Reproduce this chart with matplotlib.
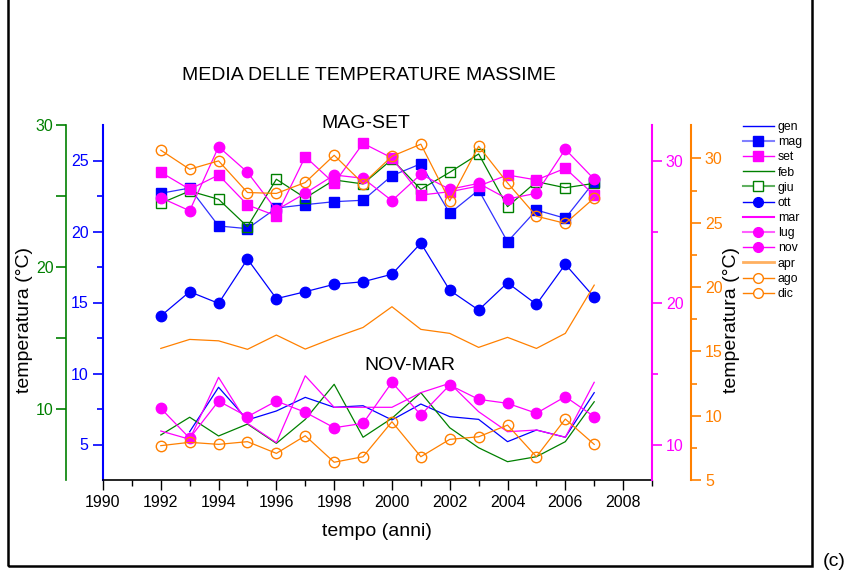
import matplotlib
matplotlib.use("Agg")
import matplotlib.pyplot as plt
from matplotlib.lines import Line2D
from matplotlib.patches import Rectangle
from matplotlib.ticker import FixedLocator

plt.rcParams['font.family'] = ['Liberation Sans', 'DejaVu Sans']

years = list(range(1992, 2008))

# blue axis (left inner)
gen = [None, 5.90, 9.03, 6.73, 7.36, 8.32, 7.62, 7.73, 6.73, 7.85, 6.96, 6.77, 5.20, 6.02, 5.51, 8.65]
mag = [22.69, 23.06, 20.39, 20.20, 21.65, 21.89, 22.10, 22.20, 23.93, 24.77, 21.28, 22.92, 19.28, 21.51, 20.93, 23.51]
ott = [14.05, 15.76, 14.94, 18.06, 15.27, 15.76, 16.28, 16.46, 16.99, 19.18, 15.86, 14.47, 16.39, 14.87, 17.69, 15.37]
# green axis (left outer)
feb = [8.17, 9.42, 8.10, 8.94, 7.58, 9.27, 11.74, 8.01, 9.35, 11.15, 8.68, 7.27, 6.29, 6.64, 7.70, 10.51]
giu = [24.49, 25.35, 24.77, 22.84, 26.18, 24.86, 26.13, 25.85, 27.58, 25.47, 26.67, 27.96, 24.25, 26.01, 25.58, 25.89]
# magenta axis (right inner)
mar = [10.95, 10.37, 14.73, 11.49, 10.13, 14.84, 12.62, 12.62, 12.62, 13.65, 14.31, 12.31, 10.90, 11.02, 10.51, 14.38]
lug = [27.38, 26.46, 30.97, 29.17, 26.51, 27.69, 28.98, 28.75, 27.17, 29.03, 27.97, 28.39, 27.29, 27.69, 30.79, 28.68]
set_ = [29.17, 27.97, 28.98, 26.87, 26.10, 30.27, 28.39, 31.21, 30.18, 27.57, 27.80, 28.20, 28.98, 28.63, 29.45, 27.57]
nov = [12.55, 10.44, 13.06, 11.96, 13.06, 12.27, 11.18, 11.49, 14.38, 12.08, 14.19, 13.18, 12.90, 12.20, 13.37, 11.96]
# orange axis (right outer)
apr = [15.23, 15.93, 15.82, 15.16, 16.27, 15.18, 16.06, 16.86, 18.47, 16.71, 16.40, 15.31, 16.09, 15.23, 16.40, 20.15]
ago = [30.64, 29.16, 29.81, 27.35, 27.28, 28.13, 30.25, 28.05, 30.17, 31.11, 26.70, 30.95, 28.10, 25.51, 24.95, 26.93]
dic = [7.67, 7.93, 7.77, 7.98, 7.07, 8.44, 6.38, 6.81, 9.53, 6.81, 8.16, 8.36, 9.27, 6.81, 9.74, 7.77]

BLUE = '#0000ff'
GREEN = '#008000'
MAG = '#ff00ff'
ORG = '#ff8000'

W, H = 850, 576
fig = plt.figure(figsize=(W / 100, H / 100), dpi=100)
L, R, T, B = 103, 652, 125, 480
ax = fig.add_axes([L / W, 1 - B / H, (R - L) / W, (B - T) / H])
axG = ax.twinx()
axM = ax.twinx()
axO = ax.twinx()

def xy(vals):
    xs = [y for y, v in zip(years, vals) if v is not None]
    vs = [v for v in vals if v is not None]
    return xs, vs

lw = 0.9
# blue
ax.plot(*xy(gen), color=BLUE, lw=lw)
ax.plot(*xy(mag), color='#3030ff', lw=lw, marker='s', ms=6.5, mfc=BLUE, mec=BLUE)
ax.plot(*xy(ott), color=BLUE, lw=lw, marker='o', ms=7.5, mfc=BLUE, mec=BLUE)
# green
axG.plot(*xy(feb), color=GREEN, lw=lw)
axG.plot(*xy(giu), color=GREEN, lw=lw, marker='s', ms=6.5, mfc='none', mec=GREEN, mew=1.0)
# magenta
axM.plot(*xy(mar), color=MAG, lw=lw)
axM.plot(*xy(lug), color=MAG, lw=lw, marker='o', ms=7.5, mfc=MAG, mec=MAG)
axM.plot(*xy(set_), color=MAG, lw=lw, marker='s', ms=6.5, mfc=MAG, mec=MAG)
axM.plot(*xy(nov), color=MAG, lw=lw, marker='o', ms=7.5, mfc=MAG, mec=MAG)
# orange
axO.plot(*xy(apr), color=ORG, lw=lw)
axO.plot(*xy(ago), color=ORG, lw=lw, marker='o', ms=7.5, mfc='none', mec=ORG, mew=1.0)
axO.plot(*xy(dic), color=ORG, lw=lw, marker='o', ms=7.5, mfc='none', mec=ORG, mew=1.0)

# axis limits
ax.set_xlim(1990, 2009)
ax.set_ylim(2.5, 27.5)
axG.set_ylim(5, 30)
axM.set_ylim(7.5, 32.5)
axO.set_ylim(5, 32.6)

tick_fs = 11.5
# x axis
ax.set_xticks(range(1990, 2010, 2))
ax.xaxis.set_minor_locator(FixedLocator(range(1991, 2010, 2)))
ax.tick_params(axis='x', which='major', direction='out', length=7, width=1, labelsize=tick_fs, pad=4)
ax.tick_params(axis='x', which='minor', direction='out', length=4, width=1)
for s in ['top', 'right']:
    ax.spines[s].set_visible(False)
ax.spines['bottom'].set_linewidth(1.2)

# blue axis
ax.spines['left'].set_color(BLUE)
ax.spines['left'].set_linewidth(1.5)
ax.set_yticks([5, 10, 15, 20, 25])
ax.yaxis.set_minor_locator(FixedLocator([7.5, 12.5, 17.5, 22.5]))
ax.tick_params(axis='y', which='both', colors=BLUE, labelcolor=BLUE, direction='out', width=1.2)
ax.tick_params(axis='y', which='major', length=7, labelsize=tick_fs)
ax.tick_params(axis='y', which='minor', length=4)

# green axis
for s in ['top', 'right', 'bottom']:
    axG.spines[s].set_visible(False)
axG.spines['left'].set_visible(True)
axG.spines['left'].set_position(('axes', (66 - L) / (R - L)))
axG.spines['left'].set_color(GREEN)
axG.spines['left'].set_linewidth(1.2)
axG.yaxis.set_ticks_position('left')
axG.set_yticks([10, 20, 30])
axG.yaxis.set_minor_locator(FixedLocator([15, 25]))
axG.tick_params(axis='y', which='both', colors=GREEN, labelcolor=GREEN, direction='out', width=1.2)
axG.tick_params(axis='y', which='major', length=7, labelsize=tick_fs, pad=2)
axG.tick_params(axis='y', which='minor', length=7)

# magenta axis
for s in ['top', 'left', 'bottom']:
    axM.spines[s].set_visible(False)
axM.spines['right'].set_color(MAG)
axM.spines['right'].set_linewidth(1.5)
axM.set_yticks([10, 20, 30])
axM.yaxis.set_minor_locator(FixedLocator([15, 25]))
axM.tick_params(axis='y', which='both', colors=MAG, labelcolor=MAG, direction='out', width=1.2)
axM.tick_params(axis='y', which='major', length=7, labelsize=tick_fs, pad=3)
axM.tick_params(axis='y', which='minor', length=4)

# orange axis
for s in ['top', 'left', 'bottom']:
    axO.spines[s].set_visible(False)
axO.spines['right'].set_position(('axes', (691 - L) / (R - L)))
axO.spines['right'].set_color(ORG)
axO.spines['right'].set_linewidth(1.5)
axO.set_yticks([5, 10, 15, 20, 25, 30])
axO.yaxis.set_minor_locator(FixedLocator([7.5, 12.5, 17.5, 22.5, 27.5]))
axO.tick_params(axis='y', which='both', colors=ORG, labelcolor=ORG, direction='out', width=1.2)
axO.tick_params(axis='y', which='major', length=7, labelsize=tick_fs, pad=3)
axO.tick_params(axis='y', which='minor', length=4)

# texts
fs_t = 14
fig.text(369 / W, 1 - 75 / H, 'MEDIA DELLE TEMPERATURE MASSIME', ha='center', va='center', fontsize=fs_t)
fig.text(366 / W, 1 - 124 / H, 'MAG-SET', ha='center', va='center', fontsize=fs_t)
fig.text(410 / W, 1 - 366 / H, 'NOV-MAR', ha='center', va='center', fontsize=fs_t)
fig.text(377 / W, 1 - 532 / H, 'tempo (anni)', ha='center', va='center', fontsize=fs_t)
fig.text(25 / W, 1 - 320 / H, 'temperatura (°C)', ha='center', va='center', rotation=90, fontsize=fs_t)
fig.text(732 / W, 1 - 320 / H, 'temperatura (°C)', ha='center', va='center', rotation=90, fontsize=fs_t)
fig.text(834 / W, 1 - 562 / H, '(c)', ha='center', va='center', fontsize=fs_t)

# frame (top edge lies above the visible area)
fig.patches.append(Rectangle((8 / W, 1 - 566 / H), (812 - 8) / W, (566 + 10) / H,
                             transform=fig.transFigure, fill=False, edgecolor='black', lw=1.8))

# legend
def h(color, marker=None, mfc=None, lw=1.0):
    return Line2D([], [], color=color, lw=lw, marker=marker, ms=7 if marker else 0,
                  mfc=mfc, mec=color if marker else None, mew=1.0)

handles = [
    h(BLUE),
    Line2D([], [], color='#8080ff', lw=1.5, marker='s', ms=7, mfc=BLUE, mec=BLUE),
    h(MAG, 's', MAG),
    h(GREEN),
    Line2D([], [], color='#60b060', lw=1.5, marker='s', ms=6.5, mfc='white', mec=GREEN),
    h(BLUE, 'o', BLUE),
    Line2D([], [], color=MAG, lw=1.5),
    Line2D([], [], color='#ff60ff', lw=1.5, marker='o', ms=7, mfc=MAG, mec=MAG),
    h(MAG, 'o', MAG),
    Line2D([], [], color='#ffb060', lw=2.0),
    h(ORG, 'o', 'white'),
    h(ORG, 'o', 'white'),
]
labels = ['gen', 'mag', 'set', 'feb', 'giu', 'ott', 'mar', 'lug', 'nov', 'apr', 'ago', 'dic']
fig.legend(handles, labels, loc='upper left', bbox_to_anchor=(743 / W, 1 - 121 / H),
           frameon=False, fontsize=8.8, handlelength=2.5, handletextpad=0.35,
           labelspacing=0.26, borderpad=0, borderaxespad=0)

fig.savefig('out.png', dpi=100)
